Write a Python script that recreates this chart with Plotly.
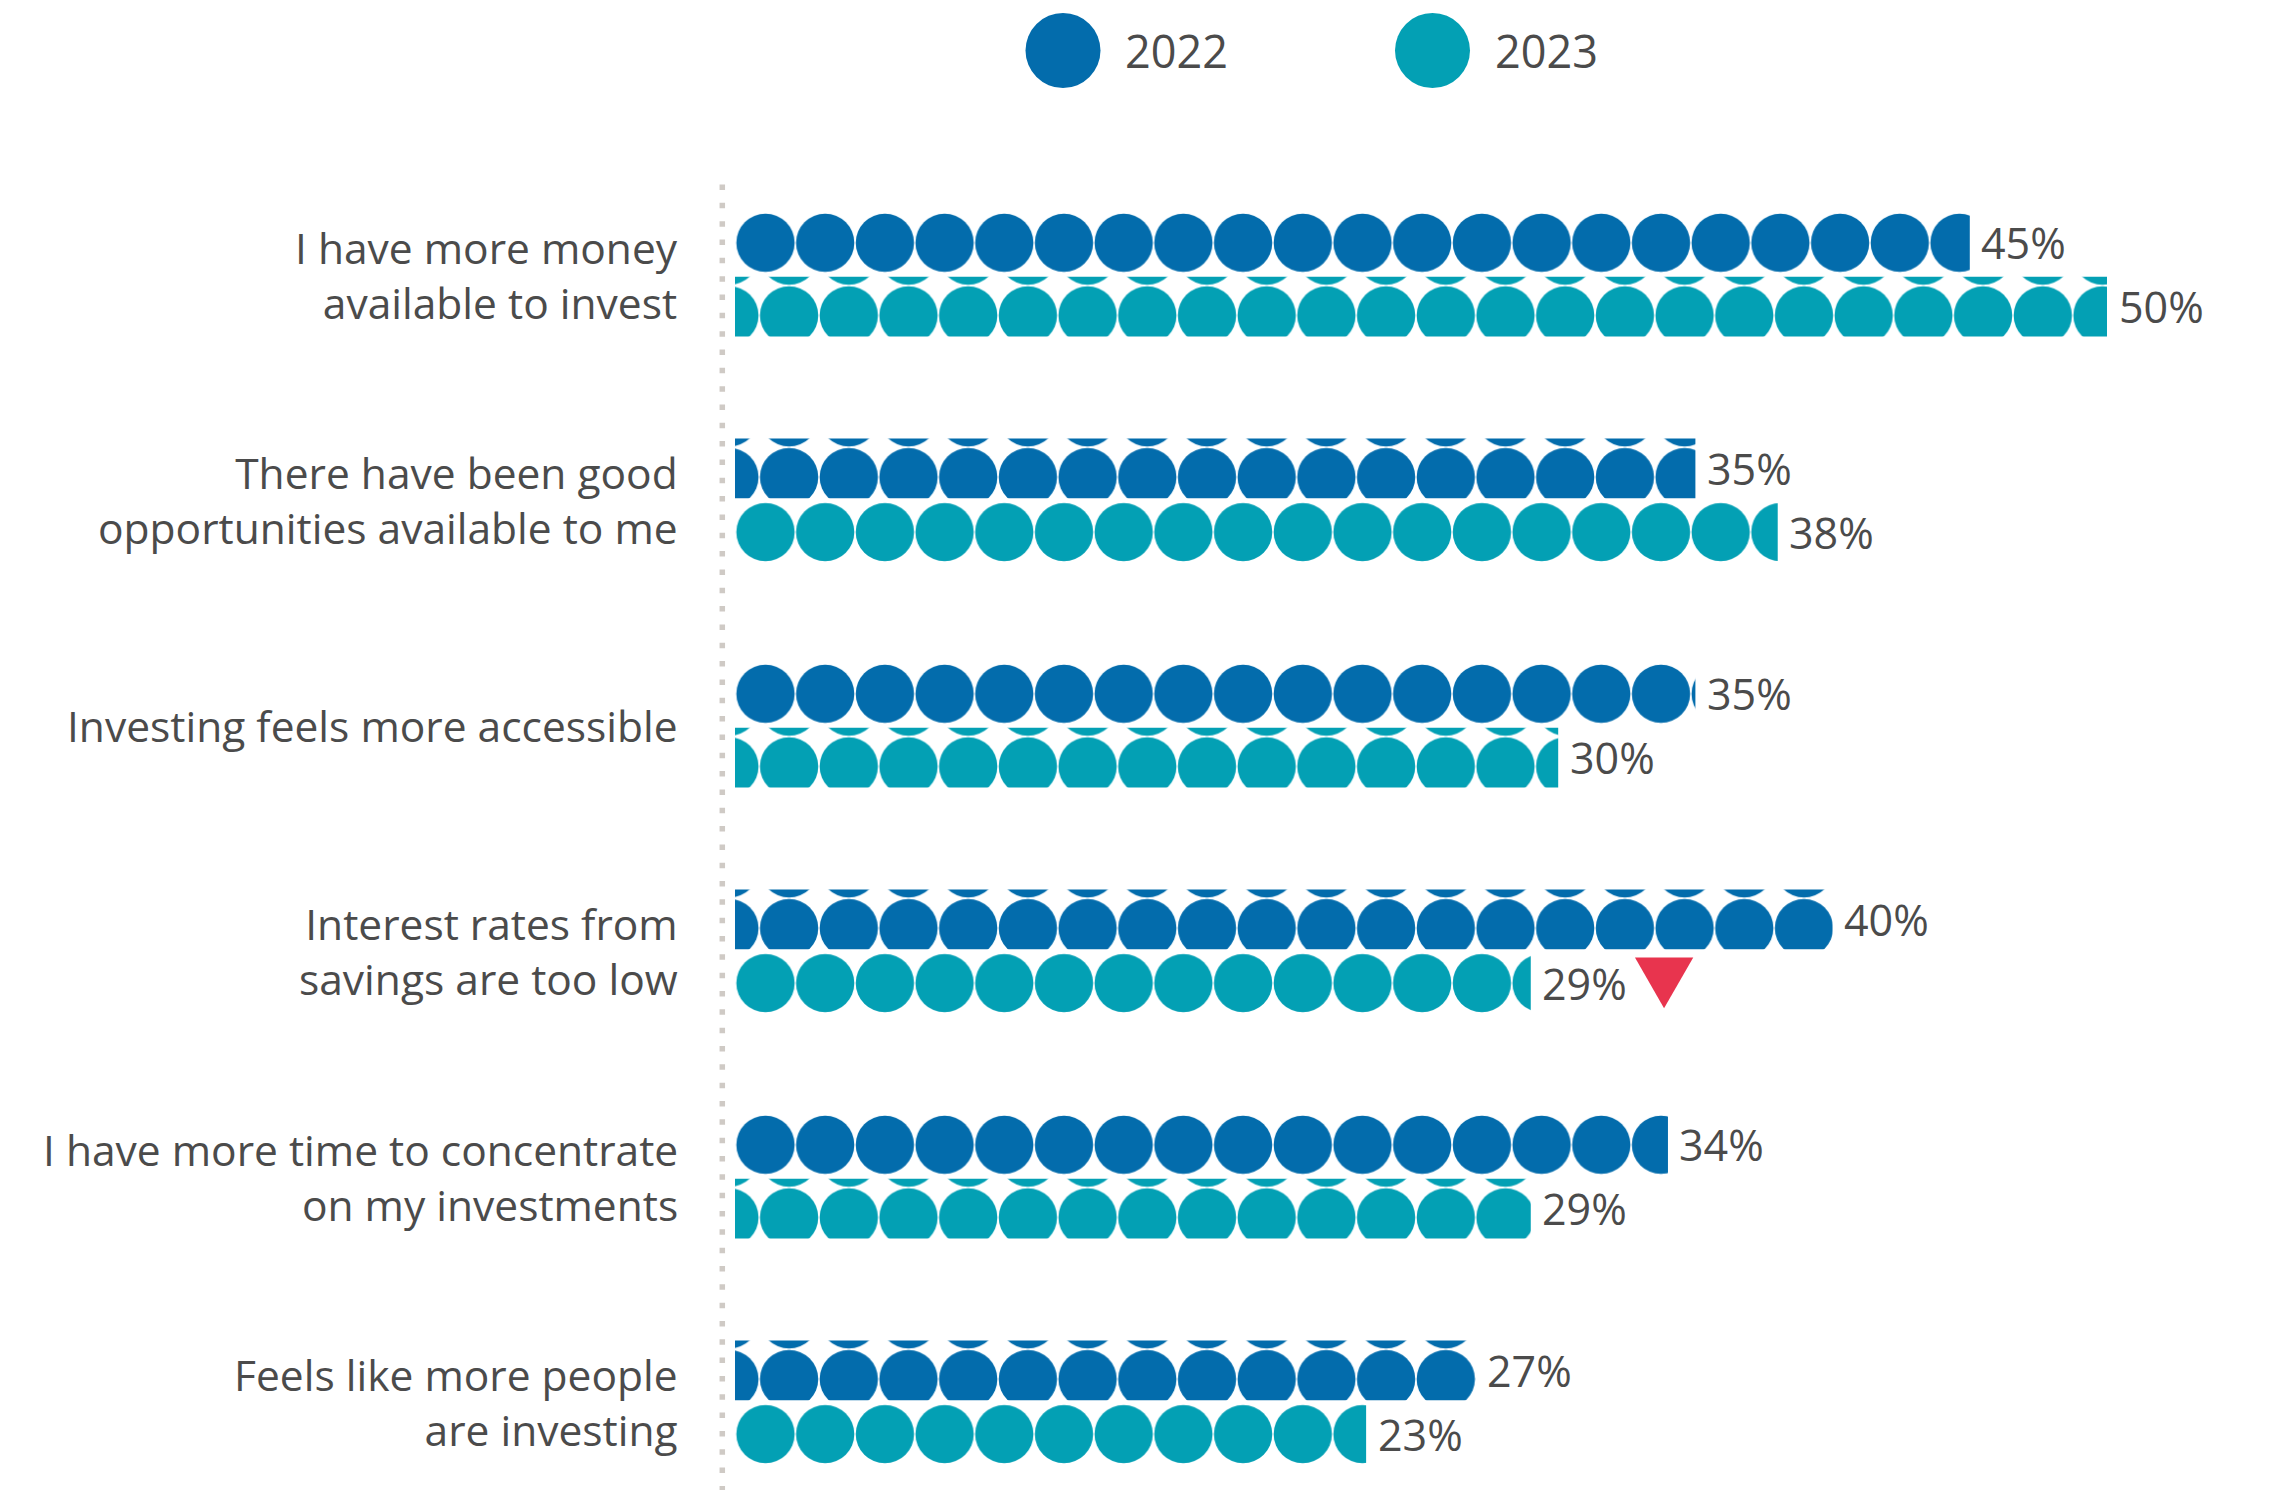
import plotly.graph_objects as go

# ---------------------------------------------------------------- data
categories = [
    "I have more money<br>available to invest",
    "There have been good<br>opportunities available to me",
    "Investing feels more accessible",
    "Interest rates from<br>savings are too low",
    "I have more time to concentrate<br>on my investments",
    "Feels like more people<br>are investing",
]
years = ["2022", "2023"]
share_2022 = [45, 35, 35, 40, 34, 27]
share_2023 = [50, 38, 30, 29, 29, 23]
# categories whose 2023 share is flagged with a red "down" marker
flag_down_2023 = [False, False, False, True, False, False]

# ---------------------------------------------------------------- styling
W, H = 2280, 1490
X_ZERO = 735.0          # pixel column of 0 %
PX_PER_PCT = 27.44      # pixels per percentage point
ROW0 = 274.7            # centre of the first category (px from top)
ROW_STEP = 225.5        # distance between categories (px)
BAR_H = 59.7            # bar thickness (px)
BAR_GAP = 4.1           # gap between the two bars of a category (px)
DOT_TILE = 59.7         # dot pattern cell size (px)
DOT_SOLIDITY = 0.749
LABEL_RIGHT = 680.0     # right edge of category labels (px)

COLORS = {"2022": "#036cac", "2023": "#03a0b4"}
DOWN_RED = "#e8344e"
TEXT = "#4b4b4b"
AXIS_DOTS = "#cfcac5"
FONT = "'Open Sans', Lato, sans-serif"
LABEL_SIZE = 42.5
VALUE_SIZE = 43

series = {"2022": share_2022, "2023": share_2023}
flags = {"2022": [False] * len(categories), "2023": flag_down_2023}

fig = go.Figure()
layout = {}
shapes = []
annotations = []

k = 0
for i, cat in enumerate(categories):
    for s, year in enumerate(years):
        k += 1
        val = series[year][i]
        band_top = ROW0 + ROW_STEP * i - (BAR_H + BAR_GAP / 2) + s * (BAR_H + BAR_GAP)

        # each bar gets its own small subplot so its dot pattern starts at its own origin
        if (i + s) % 2 == 0:
            ox, oy = X_ZERO + 0.65, band_top
        else:
            ox, oy = X_ZERO + 24.25 - DOT_TILE, band_top + 8.8 - DOT_TILE
        bottom = band_top + BAR_H + 2

        xa = "x" if k == 1 else f"x{k}"
        ya = "y" if k == 1 else f"y{k}"
        xkey = "xaxis" if k == 1 else f"xaxis{k}"
        ykey = "yaxis" if k == 1 else f"yaxis{k}"

        layout[xkey] = dict(
            domain=[ox / W, 1.0],
            range=[(ox - X_ZERO) / PX_PER_PCT, (W - X_ZERO) / PX_PER_PCT],
            visible=False, fixedrange=True, anchor=ya,
        )
        layout[ykey] = dict(
            domain=[1 - bottom / H, 1 - oy / H],
            range=[bottom - oy, 0],
            visible=False, fixedrange=True, anchor=xa,
        )

        yc = band_top + BAR_H / 2 - oy
        fig.add_trace(go.Bar(
            x=[val], y=[yc], width=[BAR_H], base=0, orientation="h",
            xaxis=xa, yaxis=ya, name=year, showlegend=False,
            marker=dict(
                color=COLORS[year], line=dict(width=0),
                pattern=dict(shape=".", size=DOT_TILE, solidity=DOT_SOLIDITY,
                             fillmode="replace"),
            ),
            hovertemplate=f"{cat.replace('<br>', ' ')}<br>{year}: %{{x}}%<extra></extra>",
        ))

        annotations.append(dict(
            xref=xa, yref=ya, x=val, y=yc, xanchor="left", yanchor="middle",
            xshift=9.5, text=f"{val}%", showarrow=False,
            font=dict(family=FONT, size=VALUE_SIZE, color=TEXT),
        ))

        if flags[year][i]:
            shapes.append(dict(
                type="path", xref=xa, yref=ya,
                xsizemode="pixel", ysizemode="pixel", xanchor=val, yanchor=yc,
                path="M 104.2,25.5 L 162.5,25.5 L 133.3,-25.2 Z",
                fillcolor=DOWN_RED, line=dict(width=0),
            ))

    # category label
    annotations.append(dict(
        xref="paper", yref="paper", x=LABEL_RIGHT / W, y=1 - (ROW0 + ROW_STEP * i) / H,
        xanchor="right", yanchor="middle", align="right", text=cat, showarrow=False,
        font=dict(family=FONT, size=LABEL_SIZE, color=TEXT),
    ))

# dotted baseline
shapes.append(dict(
    type="line", xref="paper", yref="paper",
    x0=722.3 / W, x1=722.3 / W, y0=1 - 184.5 / H, y1=0,
    line=dict(color=AXIS_DOTS, width=5.5, dash="5.5px,12.83px"),
))

# legend
legend_x = {"2022": 1063, "2023": 1432.5}
for year in years:
    cx, cy, r = legend_x[year], 50.5, 37.5
    shapes.append(dict(
        type="circle", xref="paper", yref="paper",
        x0=(cx - r) / W, x1=(cx + r) / W, y0=1 - (cy + r) / H, y1=1 - (cy - r) / H,
        fillcolor=COLORS[year], line=dict(width=0),
    ))
    annotations.append(dict(
        xref="paper", yref="paper", x=(cx + 60) / W, y=1 - cy / H,
        xanchor="left", yanchor="middle", text=year, showarrow=False,
        font=dict(family=FONT, size=VALUE_SIZE + 2, color=TEXT),
    ))

fig.update_layout(
    width=W, height=H,
    margin=dict(l=0, r=0, t=0, b=0),
    paper_bgcolor="white", plot_bgcolor="rgba(0,0,0,0)",
    showlegend=False,
    shapes=shapes, annotations=annotations,
    font=dict(family=FONT, color=TEXT),
    **layout,
)

fig.write_html("out.html")
